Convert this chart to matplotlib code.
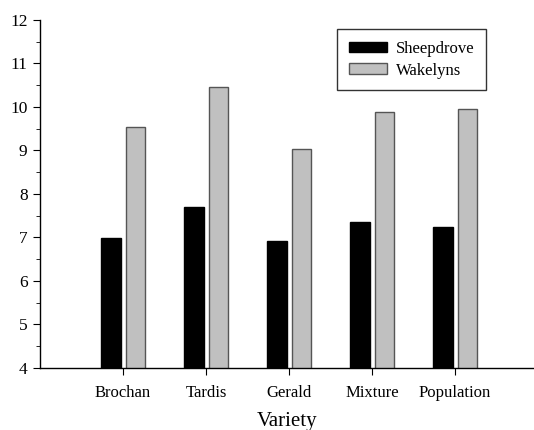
import numpy as np
import matplotlib.pyplot as plt

# Chart data
varieties = ['Brochan', 'Tardis', 'Gerald', 'Mixture', 'Population']
sheepdrove = [6.98, 7.69, 6.93, 7.35, 7.23]
wakelyns = [9.54, 10.47, 9.03, 9.88, 9.95]

plt.rcParams['font.family'] = ['Liberation Serif', 'DejaVu Serif']

fig = plt.figure(figsize=(5.34, 4.30), dpi=100)
ax = fig.add_axes([0.075, 0.1442, 0.925, 0.8093])

x = np.arange(1, len(varieties) + 1)
width = 0.235
ax.bar(x - 0.147, sheepdrove, width, bottom=0, color='black',
       edgecolor='black', linewidth=1, label='Sheepdrove')
ax.bar(x + 0.15, wakelyns, width, bottom=0, color='#c0c0c0',
       edgecolor='#555555', linewidth=1, label='Wakelyns')

ax.set_xlim(0, 5.95)
ax.set_ylim(4, 12)
ax.set_xticks(x)
ax.set_xticklabels(varieties, fontsize=12)
ax.set_yticks(range(4, 13))
ax.set_yticks(np.arange(4.5, 12, 1), minor=True)
ax.tick_params(axis='y', which='major', direction='out', length=5, labelsize=12.5, pad=4)
ax.tick_params(axis='y', which='minor', direction='out', length=3)
ax.tick_params(axis='x', direction='out', length=5, pad=7)

ax.spines['top'].set_visible(False)
ax.spines['right'].set_visible(False)
for s in ('left', 'bottom'):
    ax.spines[s].set_linewidth(1)

ax.set_xlabel('Variety', fontsize=15, labelpad=8)

leg = ax.legend(loc='upper left', bbox_to_anchor=(0.601, 0.974), fontsize=12,
                borderaxespad=0, fancybox=False, framealpha=1, edgecolor='#333333',
                handlelength=2.3, handleheight=0.6, borderpad=0.7,
                labelspacing=0.35, handletextpad=0.55)
leg.get_frame().set_linewidth(1)

fig.savefig('out.png', dpi=100)
